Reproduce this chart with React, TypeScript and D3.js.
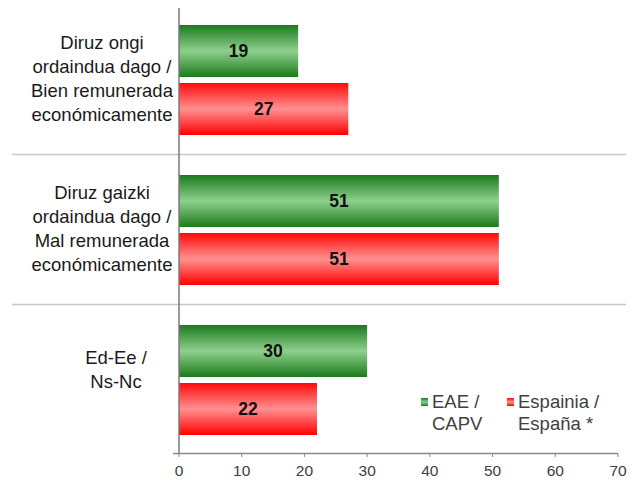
import React from "react";
import * as d3 from "d3";

const categories = [
  ["Diruz ongi", "ordaindua dago /", "Bien remunerada", "económicamente"],
  ["Diruz gaizki", "ordaindua dago /", "Mal remunerada", "económicamente"],
  ["Ed-Ee /", "Ns-Nc"],
];
const seriesNames = ["EAE / CAPV", "Espainia / España *"];
const eaeValues = [19, 51, 30];
const espanaValues = [27, 51, 22];
const xTicks = [0, 10, 20, 30, 40, 50, 60, 70];

const W = 636;
const H = 482;
const left = 179;
const right = 618;
const top = 4;
const bottom = 454;
const font = "'Liberation Sans', Arial, sans-serif";

export default function App() {
  const x = d3.scaleLinear().domain([0, 70]).range([left, right]);
  const y = d3
    .scaleBand<number>()
    .domain(d3.range(categories.length))
    .range([top, bottom])
    .padding(0);
  const inner = d3
    .scaleBand<number>()
    .domain([0, 1])
    .range([21, 131])
    .paddingInner(0.1034)
    .paddingOuter(0);
  const series = [eaeValues, espanaValues];
  const grads = ["gGreen", "gRed"];
  const bw = inner.bandwidth();

  return (
    <svg
      width={W}
      height={H}
      style={{ position: "absolute", left: 0, top: 0, background: "#fff" }}
    >
      <defs>
        <linearGradient id="gGreen" x1="0" y1="0" x2="0" y2="1">
          <stop offset="0" stopColor="#1c7a1c" />
          <stop offset="0.5" stopColor="#8ed08e" />
          <stop offset="1" stopColor="#1c7a1c" />
        </linearGradient>
        <linearGradient id="gRed" x1="0" y1="0" x2="0" y2="1">
          <stop offset="0" stopColor="#ff0a0a" />
          <stop offset="0.5" stopColor="#ff9090" />
          <stop offset="1" stopColor="#ff0000" />
        </linearGradient>
      </defs>

      {/* separators */}
      {d3.range(1, categories.length).map((i) => (
        <line
          key={"sep" + i}
          x1={12}
          x2={626}
          y1={(y(i) as number) + 0.5}
          y2={(y(i) as number) + 0.5}
          stroke="#c8c8c8"
          strokeWidth={1.5}
        />
      ))}

      {/* bars */}
      {categories.map((cat, ci) => (
        <g key={"c" + ci} transform={`translate(0,${y(ci)})`}>
          {series.map((vals, si) => {
            const by = inner(si) as number;
            const v = vals[ci];
            return (
              <g key={"s" + si}>
                <rect
                  x={x(0)}
                  y={by}
                  width={x(v) - x(0)}
                  height={bw}
                  fill={`url(#${grads[si]})`}
                />
                <text
                  x={(x(0) + x(v)) / 2}
                  y={by + bw / 2}
                  dy="0.35em"
                  textAnchor="middle"
                  fontFamily={font}
                  fontWeight="bold"
                  fontSize={17.5}
                  fill="#111"
                >
                  {v}
                </text>
              </g>
            );
          })}
          {/* category label */}
          <text
            fontFamily={font}
            fontSize={18.5}
            fill="#1a1a1a"
            textAnchor="middle"
          >
            {cat.map((line, li) => (
              <tspan
                key={li}
                x={cat.length === 2 ? 116 : 102}
                y={
                  y.bandwidth() / 2 +
                  (li - (cat.length - 1) / 2) * 24 -
                  (cat.length === 2 ? 9 : 0)
                }
                dy="0.35em"
              >
                {line}
              </tspan>
            ))}
          </text>
        </g>
      ))}

      {/* y axis */}
      <line x1={left} x2={left} y1={8} y2={bottom} stroke="#7a7a7a" strokeWidth={1.5} />
      {/* x axis */}
      <line x1={left - 6} x2={right} y1={bottom - 0.5} y2={bottom - 0.5} stroke="#8a8a8a" strokeWidth={1.5} />
      {xTicks.map((t) => (
        <g key={"t" + t}>
          <line x1={x(t)} x2={x(t)} y1={bottom - 1} y2={bottom + 3} stroke="#8a8a8a" strokeWidth={1} />
          <text
            x={x(t)}
            y={471}
            dy="0.35em"
            textAnchor="middle"
            fontFamily={font}
            fontSize={15.5}
            fill="#404040"
          >
            {t}
          </text>
        </g>
      ))}

      {/* legend */}
      {[
        { x: 421, lines: ["EAE /", "CAPV"] },
        { x: 507, lines: ["Espainia /", "España *"] },
      ].map((lg, i) => (
        <g key={"lg" + i}>
          <rect x={lg.x} y={398} width={7} height={8} fill={`url(#${grads[i]})`} />
          <text fontFamily={font} fontSize={18.5} fill="#404040" aria-label={seriesNames[i]}>
            {lg.lines.map((l, li) => (
              <tspan key={li} x={lg.x + 11} y={402 + li * 22} dy="0.35em">
                {l}
              </tspan>
            ))}
          </text>
        </g>
      ))}
    </svg>
  );
}
